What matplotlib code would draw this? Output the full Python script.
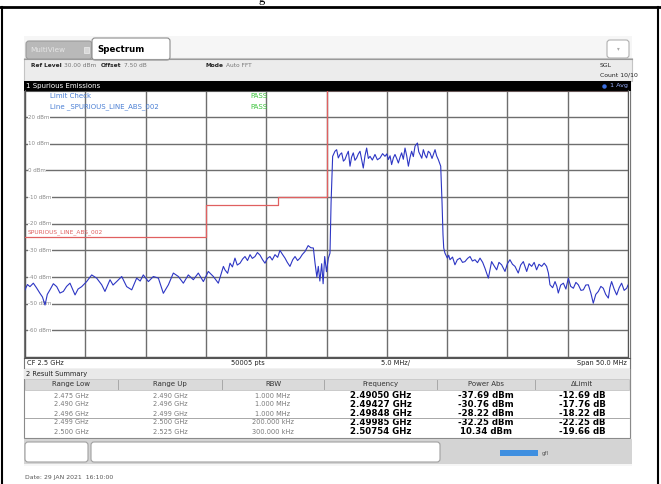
import numpy as np
import matplotlib
matplotlib.use("Agg")
import matplotlib.pyplot as plt
from matplotlib.patches import Rectangle, FancyBboxPatch

# ---------------- data ----------------
trace_freq_mhz = [
    2475.00, 2475.20, 2475.41, 2475.69, 2475.95, 2476.24, 2476.45, 2476.66, 2476.85, 2477.07,
    2477.35, 2477.63, 2477.90, 2478.18, 2478.45, 2478.73, 2479.15, 2479.40, 2479.70, 2480.11,
    2480.53, 2480.94, 2481.36, 2481.63, 2482.05, 2482.30, 2482.60, 2483.02, 2483.43, 2483.85,
    2484.26, 2484.55, 2484.81, 2485.23, 2485.64, 2486.06, 2486.47, 2486.89, 2487.30, 2487.72,
    2488.13, 2488.54, 2488.96, 2489.37, 2489.79, 2490.20, 2490.62, 2491.03, 2491.45,
    2491.58, 2491.80, 2492.00, 2492.20, 2492.41, 2492.60, 2492.83, 2493.05, 2493.24, 2493.45,
    2493.66, 2493.85, 2494.07, 2494.27, 2494.49, 2494.70, 2494.90, 2495.10, 2495.31, 2495.50,
    2495.73, 2495.95, 2496.14, 2496.35, 2496.56, 2496.75, 2496.97, 2497.20, 2497.39, 2497.60,
    2497.80, 2498.00, 2498.22, 2498.48, 2498.70, 2498.91, 2499.05, 2499.20, 2499.32, 2499.45,
    2499.60, 2499.72, 2499.85, 2500.00, 2500.15, 2500.29, 2500.38,
    2500.51, 2500.70, 2500.84, 2500.98, 2501.12, 2501.26, 2501.40, 2501.53, 2501.67, 2501.81,
    2501.95, 2502.08, 2502.22, 2502.36, 2502.50, 2502.64, 2502.78, 2502.92, 2503.05, 2503.19,
    2503.33, 2503.47, 2503.61, 2503.80, 2504.02, 2504.22, 2504.44, 2504.65, 2504.85, 2505.00,
    2505.13, 2505.27, 2505.40, 2505.55, 2505.68, 2505.82, 2505.96, 2506.10, 2506.23, 2506.37,
    2506.51, 2506.65, 2506.79, 2506.92, 2507.06, 2507.20, 2507.34, 2507.54, 2507.65, 2507.75,
    2507.90, 2508.03, 2508.17, 2508.30, 2508.44, 2508.58, 2508.75, 2509.00, 2509.13, 2509.27,
    2509.47, 2509.58,
    2509.66, 2509.72, 2509.82, 2510.02, 2510.13, 2510.24, 2510.45, 2510.65, 2510.85, 2511.07,
    2511.28, 2511.48, 2511.70, 2511.90, 2512.10, 2512.31, 2512.52, 2512.73, 2512.95, 2513.14,
    2513.42, 2513.69, 2513.90, 2514.11, 2514.30, 2514.52, 2514.80, 2515.00, 2515.21, 2515.42,
    2515.63, 2515.90, 2516.10, 2516.32, 2516.60, 2516.80, 2517.01, 2517.22, 2517.42, 2517.62,
    2517.84, 2518.05, 2518.25, 2518.40, 2518.53, 2518.75, 2518.95, 2519.10, 2519.22, 2519.42,
    2519.64, 2519.85, 2520.05, 2520.25, 2520.47, 2520.68, 2520.88, 2521.10, 2521.30, 2521.50,
    2521.71, 2521.92, 2522.12, 2522.33, 2522.54, 2522.75, 2522.95, 2523.15, 2523.37, 2523.50,
    2523.64, 2523.85, 2524.06, 2524.27, 2524.47, 2524.68, 2524.89, 2525.00,
]
trace_dbm = [
    -44.8, -42.8, -43.6, -42.3, -44.0, -46.1, -47.5, -50.5, -46.5, -44.8,
    -42.5, -43.6, -46.0, -45.4, -43.5, -42.3, -46.7, -44.5, -43.6, -41.7,
    -39.2, -40.4, -42.9, -45.4, -41.0, -43.0, -41.7, -39.8, -43.6, -44.8,
    -40.4, -41.5, -39.2, -41.7, -39.8, -40.4, -46.1, -42.9, -38.5, -39.8,
    -42.3, -39.2, -41.0, -38.5, -41.7, -37.9, -39.8, -42.3, -36.0,
    -37.3, -38.6, -34.8, -36.2, -32.9, -35.5, -34.8, -33.2, -32.3, -33.8,
    -31.6, -33.0, -32.3, -30.8, -31.8, -33.5, -34.8, -33.0, -32.3, -33.6,
    -31.6, -32.6, -30.0, -31.5, -32.9, -34.5, -36.0, -33.5, -32.3, -33.8,
    -32.9, -31.5, -30.4, -28.2, -29.0, -29.1, -34.8, -40.0, -36.0, -41.5,
    -35.0, -42.5, -32.3, -38.0, -33.0, -31.0, -12.0,
    5.3, 7.2, 7.8, 4.7, 6.0, 6.6, 3.5, 4.1, 5.8, 7.2,
    1.6, 5.0, 6.6, 3.8, 4.7, 6.2, 7.2, 4.0, 0.9, 5.5,
    8.4, 4.5, 5.3, 3.9, 6.0, 4.0, 4.7, 6.3, 5.3, 6.2,
    4.1, 5.5, 2.2, 4.8, 6.0, 4.5, 2.8, 5.0, 6.6, 4.2,
    8.4, 5.5, 1.6, 4.8, 7.2, 5.2, 9.1, 10.3, 7.0, 6.0,
    4.6, 7.8, 5.8, 4.7, 7.2, 6.6, 4.5, 7.8, 5.5, 4.1,
    1.6, -12.0,
    -24.1, -29.1, -31.0, -32.9, -31.8, -33.5, -32.5, -35.4, -33.5, -32.9,
    -34.5, -34.2, -33.0, -32.3, -34.0, -33.5, -34.6, -32.9, -34.5, -36.7,
    -40.4, -34.2, -35.8, -37.3, -34.5, -35.4, -37.9, -35.0, -33.5, -35.2,
    -36.0, -38.5, -35.5, -34.2, -37.9, -35.0, -36.0, -34.5, -37.3, -35.2,
    -36.0, -34.8, -36.0, -38.5, -42.9, -44.0, -41.7, -43.5, -46.0, -43.0,
    -42.3, -44.5, -40.4, -43.5, -44.2, -42.0, -42.9, -45.0, -44.8, -43.0,
    -42.9, -46.0, -49.8, -46.5, -45.4, -43.5, -44.2, -46.5, -47.9, -44.0,
    -41.7, -44.5, -46.7, -44.0, -42.3, -45.0, -44.2, -43.0,
]

limit_edges_mhz = [2475, 2490, 2496, 2500, 2525]
limit_dbm = [-25, -13, -10, 30]

y_ticks_dbm = [20, 10, 0, -10, -20, -30, -40, -50, -60]

range_low_ghz = [2.475, 2.490, 2.496, 2.499, 2.500]
range_up_ghz = [2.490, 2.496, 2.499, 2.500, 2.525]
rbw_text = ["1.000 MHz", "1.000 MHz", "1.000 MHz", "200.000 kHz", "300.000 kHz"]
peak_freq_ghz = [2.49050, 2.49427, 2.49848, 2.49985, 2.50754]
power_abs_dbm = [-37.69, -30.76, -28.22, -32.25, 10.34]
delta_limit_db = [-12.69, -17.76, -18.22, -22.25, -19.66]
table_headers = ["Range Low", "Range Up", "RBW", "Frequency", "Power Abs", "\u0394Limit"]

# ---------------- figure ----------------
W, H = 661, 484
fig = plt.figure(figsize=(W / 100, H / 100), dpi=100)
fig.patch.set_facecolor("white")

bg = fig.add_axes([0, 0, 1, 1], zorder=0)
bg.set_xlim(0, W); bg.set_ylim(H, 0); bg.axis("off")

FONT = "DejaVu Sans"

def rect(axh, x0, y0, x1, y1, fc, ec="none", lw=0.8, z=1, rounded=False):
    if rounded:
        p = FancyBboxPatch((x0, y0), x1 - x0, y1 - y0, boxstyle="round,pad=0,rounding_size=3",
                           fc=fc, ec=ec, lw=lw, zorder=z)
    else:
        p = Rectangle((x0, y0), x1 - x0, y1 - y0, fc=fc, ec=ec, lw=lw, zorder=z)
    axh.add_patch(p)

def txt(axh, x, y, s, size=5, color="#222222", ha="left", va="center", weight="normal", z=5):
    axh.text(x, y, s, fontsize=size, color=color, ha=ha, va=va, weight=weight,
             family=FONT, zorder=z)

# outer document frame
bg.plot([0, W], [7, 7], color="black", lw=2.0, zorder=2)
bg.plot([1.5, 1.5], [7, H], color="black", lw=1.5, zorder=2)
bg.plot([657.5, 657.5], [7, H], color="black", lw=1.5, zorder=2)
bg.text(262, 2.2, "g", fontsize=9, family="Liberation Serif", ha="center", va="baseline", zorder=2)

# screen background
rect(bg, 24, 36, 632, 466, "#f6f6f6")
# tabs
rect(bg, 26, 41, 92, 59, "#b9b9b9", ec="#9a9a9a", rounded=True, z=2)
txt(bg, 30, 50.5, "MultiView", size=5.2, color="#e6e6e6", z=3)
rect(bg, 84, 47, 89, 53, "#d8d8d8", ec="#eeeeee", lw=0.5, z=3)
rect(bg, 92, 38, 170, 60, "white", ec="#8c8c8c", rounded=True, z=2)
txt(bg, 97, 49, "Spectrum", size=6.2, color="black", weight="bold", z=3)
rect(bg, 607, 40, 629, 58, "white", ec="#b0b0b0", rounded=True, z=2)
txt(bg, 618, 49, "\u25be", size=4, color="#aaaaaa", ha="center", z=3)

# header row
rect(bg, 24, 58, 632, 81, "#ececec", ec="#c4c4c4", z=1)
bg.plot([24, 632], [58.5, 58.5], color="#9a9a9a", lw=0.8, zorder=2)
txt(bg, 31, 65.5, "Ref Level", size=4.2, color="#222222", weight="bold")
txt(bg, 64, 65.5, "30.00 dBm", size=4.2, color="#777777")
txt(bg, 101, 65.5, "Offset", size=4.2, color="#222222", weight="bold")
txt(bg, 124, 65.5, "7.50 dB", size=4.2, color="#777777")
txt(bg, 205, 65.5, "Mode", size=4.2, color="#222222", weight="bold")
txt(bg, 226, 65.5, "Auto FFT", size=4.2, color="#777777")
txt(bg, 600, 65.5, "SGL", size=4.4, color="#222222")
txt(bg, 600, 75, "Count 10/10", size=4.4, color="#222222")

# black title bar
rect(bg, 24, 81, 631, 90.5, "black", z=2)
txt(bg, 26, 85.8, "1 Spurious Emissions", size=5.0, color="white", z=3)
bg.plot([604], [85.8], marker="o", ms=2.2, color="#3b6fe0", zorder=3)
txt(bg, 628, 85.8, "1 Avg", size=4.6, color="#9ab0ff", ha="right", z=3)

# plot frame
rect(bg, 24, 90, 630, 369, "white", ec="#777777", z=1)

# bottom strip of diagram
bg.plot([24, 630], [357.5, 357.5], color="#555555", lw=0.8, zorder=3)
txt(bg, 27, 363, "CF 2.5 GHz", size=4.8, color="#222222")
txt(bg, 231, 363, "50005 pts", size=4.8, color="#222222")
txt(bg, 381, 363, "5.0 MHz/", size=4.8, color="#222222")
txt(bg, 627, 363, "Span 50.0 MHz", size=4.8, color="#222222", ha="right")

# result summary panel
rect(bg, 24, 369, 630, 438, "white", ec="#8a8a8a", z=1)
rect(bg, 24, 369, 630, 378.5, "#e9e9e9", z=2)
txt(bg, 26, 374, "2 Result Summary", size=4.8, color="#222222", z=3)
rect(bg, 25, 378.5, 629, 389.5, "#dadada", ec="#bdbdbd", lw=0.5, z=2)

col_edges = [25, 118, 222, 324, 437, 535, 629]
col_centers = [(col_edges[i] + col_edges[i + 1]) / 2 for i in range(6)]
for i, h in enumerate(table_headers):
    txt(bg, col_centers[i], 384.2, h, size=5.0, color="#333333", ha="center", z=3)
for xe in col_edges[1:-1]:
    bg.plot([xe, xe], [380, 388.5], color="#a8a8a8", lw=0.7, zorder=3)

row_y = [395.5, 404.5, 413.5, 422.5, 431.5]
for r in range(5):
    txt(bg, col_centers[0], row_y[r], f"{range_low_ghz[r]:.3f} GHz", size=4.8, color="#7a7a7a", ha="center", z=3)
    txt(bg, col_centers[1], row_y[r], f"{range_up_ghz[r]:.3f} GHz", size=4.8, color="#7a7a7a", ha="center", z=3)
    txt(bg, col_centers[2], row_y[r], rbw_text[r], size=4.8, color="#7a7a7a", ha="center", z=3)
    txt(bg, col_centers[3], row_y[r], f"{peak_freq_ghz[r]:.5f} GHz", size=6.2, color="black",
        ha="center", weight="bold", z=3)
    txt(bg, col_centers[4], row_y[r], f"{power_abs_dbm[r]:.2f} dBm", size=6.2, color="black",
        ha="center", weight="bold", z=3)
    txt(bg, col_centers[5], row_y[r], f"{delta_limit_db[r]:.2f} dB", size=6.2, color="black",
        ha="center", weight="bold", z=3)
bg.plot([25, 629], [418, 418], color="#9a9a9a", lw=0.6, zorder=3)

# bottom status bar
rect(bg, 24, 439, 632, 464, "#d4d4d4", z=1)
rect(bg, 25, 442, 88, 462, "white", ec="#a0a0a0", rounded=True, z=2)
rect(bg, 91, 442, 440, 462, "white", ec="#a0a0a0", rounded=True, z=2)
rect(bg, 500, 450, 538, 456, "#3f8fe0", z=3)
txt(bg, 542, 453, "gfl", size=4, color="#555555", z=3)
txt(bg, 25, 478, "Date: 29 JAN 2021  16:10:00", size=4.4, color="#555555")

# ---------------- spectrum axes ----------------
ax = fig.add_axes([25 / W, 1 - 357 / H, 603 / W, 266.5 / H], zorder=1)
ax.set_xlim(2475, 2525)
ax.set_ylim(-70, 30)
ax.set_xticks(np.arange(2475, 2526, 5))
ax.set_yticks(np.arange(-70, 31, 10))
ax.grid(True, color="#6e6e6e", lw=1.0)
ax.tick_params(length=0, labelbottom=False, labelleft=False)
for s in ax.spines.values():
    s.set_color("#555555"); s.set_linewidth(0.8)
ax.set_axisbelow(True)

for v in y_ticks_dbm:
    ax.text(2475.25, v, f"{v} dBm", fontsize=4.0, color="#8a8a8a", va="center", ha="left",
            family=FONT, bbox=dict(fc="white", ec="none", pad=0.3), zorder=4)

ax.step(limit_edges_mhz, limit_dbm + [limit_dbm[-1]], where="post", color="#e06060", lw=0.9, zorder=3)
ax.text(2475.25, -23.3, "SPURIOUS_LINE_ABS_002", fontsize=4.2, color="#e06060", va="center",
        family=FONT, zorder=4)

ax.plot(trace_freq_mhz, trace_dbm, color="#2d36c4", lw=0.8, zorder=5)

# legend lines inside the diagram
ov = fig.add_axes([0, 0, 1, 1], zorder=10)
ov.set_xlim(0, W); ov.set_ylim(H, 0); ov.axis("off"); ov.patch.set_alpha(0)
txt(ov, 50, 96, "Limit Check", size=5.0, color="#4a7fd4")
txt(ov, 50, 107, "Line _SPURIOUS_LINE_ABS_002", size=5.0, color="#4a7fd4")
txt(ov, 250, 96, "PASS", size=5.0, color="#3cc43c")
txt(ov, 250, 107, "PASS", size=5.0, color="#3cc43c")

fig.savefig("out.png", dpi=100)
